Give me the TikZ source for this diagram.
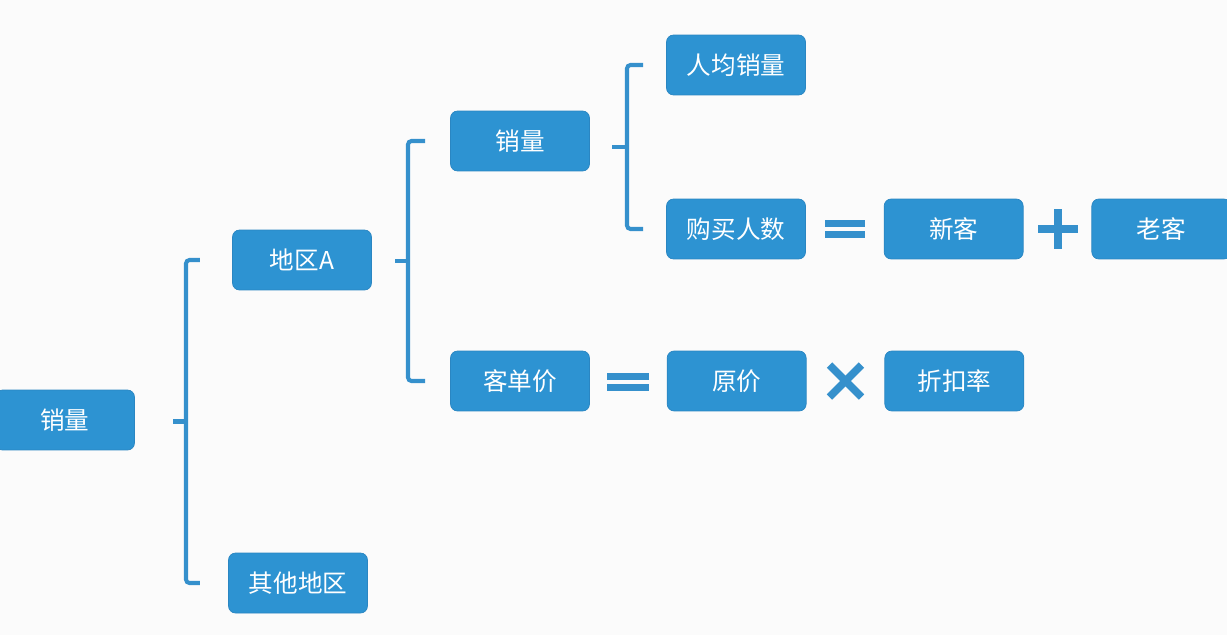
\documentclass[tikz,border=0pt]{standalone}
\usepackage{fontspec}
\usepackage{xcolor}
\usepackage{tikz}
\usetikzlibrary{positioning, calc}
\newfontfamily\cjk{Noto Sans CJK SC}
\definecolor{boxblue}{HTML}{2D93D2}
\definecolor{boxedge}{HTML}{2A86C2}
\definecolor{linkblue}{HTML}{3590CC}
\definecolor{paper}{HTML}{FBFBFB}

\begin{document}
\begin{tikzpicture}[
    x=0.02cm, y=-0.02cm,
    every node/.style={draw=boxedge, fill=boxblue, text=white, rounded corners=0.14cm, minimum width=2.78cm, minimum height=1.2cm, align=center, font=\cjk\fontsize{14}{16}\selectfont},
    brace/.style={draw=linkblue, line width=2.3pt, rounded corners=2pt},
    sign/.style={fill=linkblue},
    cross/.style={draw=linkblue, line width=4.4pt}
]
\useasboundingbox[fill=paper] (0,0) rectangle (1227,635);

\node (root) at (65,420) {销量};
\node (regA) at (302,260) {地区A};
\node (other) at (298,583) {其他地区};
\node (sales) at (520,141) {销量};
\node (price) at (520,381) {客单价};
\node (avg) at (736,65) {人均销量};
\node (buy) at (736,229) {购买人数};
\node (new) [right=1.56cm of buy] {新客};
\node (old) [right=1.36cm of new] {老客};
\node (orig) [right=1.54cm of price] {原价};
\node (disc) [right=1.56cm of orig] {折扣率};

\coordinate (b1) at (186,0);
\coordinate (b2) at (408,0);
\coordinate (b3) at (627,0);

\draw[brace] ([xshift=0.28cm]b1 |- regA.west) -- (b1 |- regA.west) -- (b1 |- other.west) -- ([xshift=0.28cm]b1 |- other.west);
\draw[brace] ($(b1 |- regA.west)!0.5!(b1 |- other.west)$) -- ++(-13,0);
\draw[brace] ([xshift=0.34cm]b2 |- sales.west) -- (b2 |- sales.west) -- (b2 |- price.west) -- ([xshift=0.34cm]b2 |- price.west);
\draw[brace] ($(b2 |- sales.west)!0.5!(b2 |- price.west)$) -- ++(-13,0);
\draw[brace] ([xshift=0.32cm]b3 |- avg.west) -- (b3 |- avg.west) -- (b3 |- buy.west) -- ([xshift=0.32cm]b3 |- buy.west);
\draw[brace] ($(b3 |- avg.west)!0.5!(b3 |- buy.west)$) -- ++(-15,0);

\coordinate (eq1) at ($(buy.east)!0.5!(new.west)$);
\coordinate (plus) at ($(new.east)!0.5!(old.west)$);
\coordinate (eq2) at ($(price.east)!0.5!(orig.west)$);
\coordinate (times) at ($(orig.east)!0.5!(disc.west)$);

\fill[sign] ($(eq1)+(-20,-9)$) rectangle ($(eq1)+(20,-2)$);
\fill[sign] ($(eq1)+(-20,2)$) rectangle ($(eq1)+(20,9)$);
\fill[sign] ($(eq2)+(-21,-8)$) rectangle ($(eq2)+(21,-1)$);
\fill[sign] ($(eq2)+(-21,3)$) rectangle ($(eq2)+(21,10)$);
\fill[sign] ($(plus)+(-20,-4)$) rectangle ($(plus)+(20,4)$);
\fill[sign] ($(plus)+(-4,-20)$) rectangle ($(plus)+(4,20)$);
\draw[cross] ($(times)+(-16,-16)$) -- ($(times)+(16,16)$);
\draw[cross] ($(times)+(-16,16)$) -- ($(times)+(16,-16)$);
\end{tikzpicture}
\end{document}
